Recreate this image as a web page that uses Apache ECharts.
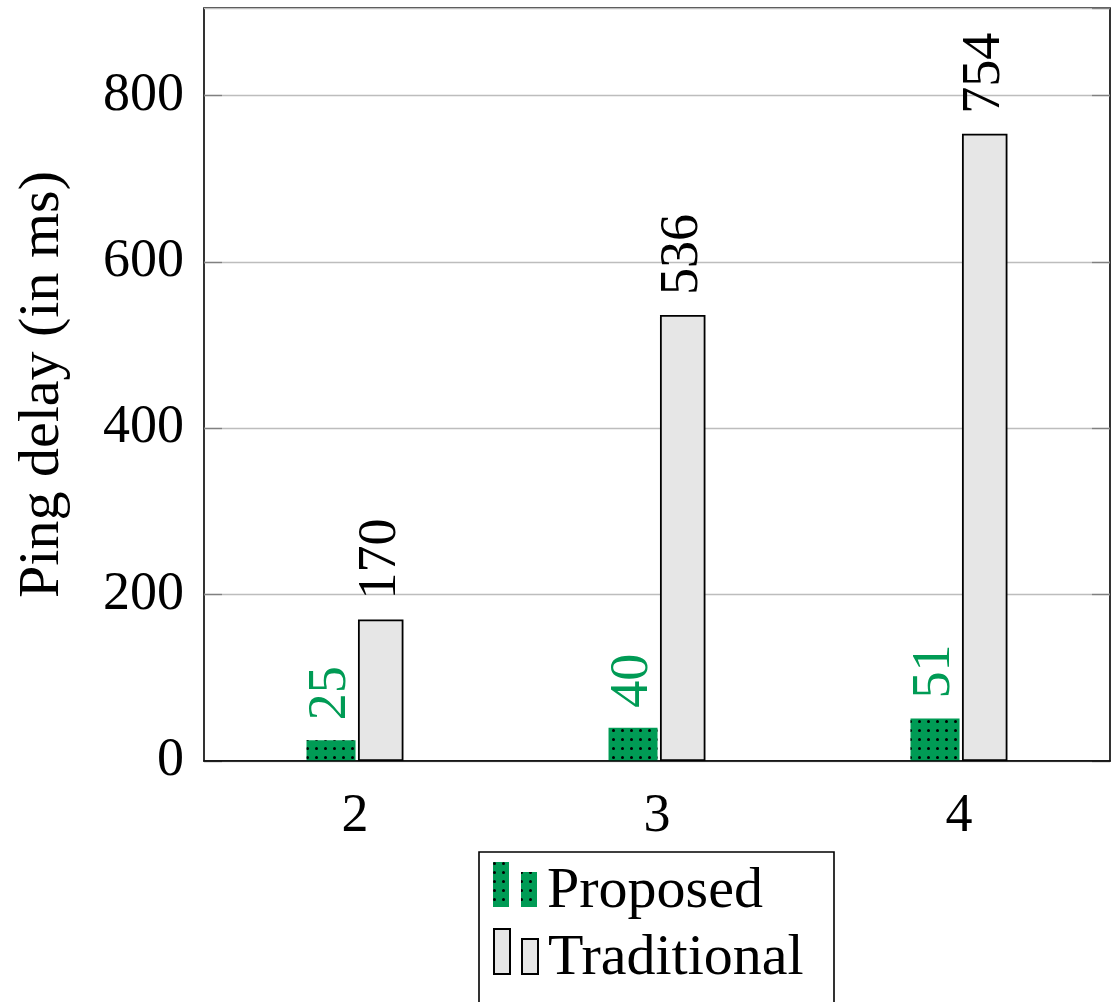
<!DOCTYPE html>
<html>
<head>
<meta charset="utf-8">
<script src="https://cdn.jsdelivr.net/npm/echarts@6/dist/echarts.min.js"></script>
<style>
  html, body { margin: 0; padding: 0; background: #fff; }
  #chart { width: 1118px; height: 1002px; }
</style>
</head>
<body>
<div id="chart"></div>
<script>
// Number of nodes on the x axis, ping delays per scheme
const categories = ['2', '3', '4'];
const proposed = [25, 40, 51];
const traditional = [170, 536, 754];
const seriesNames = ['Proposed', 'Traditional'];
const yAxisTitle = 'Ping delay (in ms)';
const yMin = 0;
const yMax = 905;
const yStep = 200;

const GREEN = '#009b55';
const GREY_FILL = '#e6e6e6';
const FONT = '"Liberation Serif", "Times New Roman", serif';

const chart = echarts.init(document.getElementById('chart'), null, { renderer: 'canvas' });

const dots = {
  symbol: 'circle',
  symbolSize: 1,
  color: '#000',
  dashArrayX: [2.4, 5.6],
  dashArrayY: [2.4, 5.4],
  rotation: 0
};

const valueLabel = (color) => ({
  show: true,
  position: 'top',
  rotate: 90,
  align: 'left',
  verticalAlign: 'middle',
  distance: 20,
  color: color,
  fontFamily: FONT,
  fontSize: 54
});

const yTickFormatter = (v) => (v % yStep === 0 ? String(v) : '');

// one legend block per row so the rows sit at fixed heights inside the frame
const legendRow = (name, top) => ({
  orient: 'vertical',
  left: 493,
  top: top,
  padding: 0,
  itemWidth: 44,
  itemHeight: 45,
  icon: 'path://M0,0H16V45H0ZM28,10H44V45H28Z',
  formatter: '{t|{name}}',
  textStyle: {
    fontFamily: FONT, fontSize: 58, color: '#000',
    rich: { t: { fontFamily: FONT, fontSize: 58, color: '#000', padding: [14, 0, 0, 5] } }
  },
  data: [name]
});

chart.setOption({
  animation: false,
  backgroundColor: '#fff',
  grid: {
    left: 204, right: 8, top: 8, bottom: 241,
    show: true, borderColor: '#000', borderWidth: 1.6,
    backgroundColor: 'transparent'
  },
  legend: [legendRow(seriesNames[0], 862), legendRow(seriesNames[1], 928)],
  graphic: [{
    type: 'rect',
    shape: { x: 479, y: 852, width: 355, height: 200 },
    style: { fill: 'transparent', stroke: '#000', lineWidth: 1.6 },
    z: 10
  }],
  xAxis: {
    type: 'category',
    data: categories,
    z: 5,
    axisLine: { show: true, lineStyle: { color: '#000', width: 1.6 } },
    axisTick: { show: false },
    axisLabel: { margin: 29, fontFamily: FONT, fontSize: 54, color: '#000' },
    splitLine: { show: false }
  },
  yAxis: [{
    type: 'value',
    min: yMin, max: yMax, interval: yStep,
    name: yAxisTitle,
    nameLocation: 'middle',
    nameGap: 132,
    nameTextStyle: { fontFamily: FONT, fontSize: 58, color: '#000' },
    axisLine: { show: false },
    axisTick: { show: true, inside: true, length: 18, lineStyle: { color: '#808080', width: 1.3 } },
    axisLabel: { margin: 20, fontFamily: FONT, fontSize: 54, color: '#000', formatter: yTickFormatter, showMaxLabel: false },
    splitLine: { show: true, lineStyle: { color: '#bdbdbd', width: 1.3 } }
  }, {
    type: 'value',
    position: 'right',
    min: yMin, max: yMax, interval: yStep,
    axisLine: { show: false },
    axisTick: { show: true, inside: true, length: 18, lineStyle: { color: '#808080', width: 1.3 } },
    axisLabel: { show: false },
    splitLine: { show: false }
  }],
  series: [{
    name: seriesNames[0],
    type: 'bar',
    data: proposed,
    barWidth: 49,
    barGap: '5%',
    itemStyle: { color: GREEN, decal: dots },
    label: valueLabel(GREEN)
  }, {
    name: seriesNames[1],
    type: 'bar',
    data: traditional,
    barWidth: 45.5,
    itemStyle: { color: GREY_FILL, borderColor: '#000', borderWidth: 1.8 },
    label: valueLabel('#000')
  }]
});
</script>
</body>
</html>
